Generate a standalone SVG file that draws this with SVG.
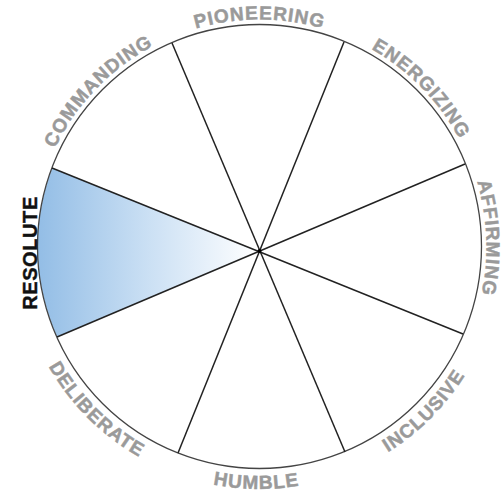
<svg xmlns="http://www.w3.org/2000/svg" xmlns:xlink="http://www.w3.org/1999/xlink" width="503" height="494" viewBox="0 0 503 494">
<style>
.lbl{font-family:"Liberation Sans",Arial,sans-serif;font-weight:bold;font-size:19px;fill:#9a9a9a;stroke:#9a9a9a;stroke-width:0.5px;letter-spacing:1px}
.sel{font-family:"Liberation Sans",Arial,sans-serif;font-weight:bold;font-size:20px;fill:#111;stroke:#111;stroke-width:0.4px;letter-spacing:0.6px}
.spoke{stroke:#222;stroke-width:1.5;fill:none}
</style>
<defs>
<linearGradient id="blue" gradientUnits="userSpaceOnUse" x1="40" y1="0" x2="258" y2="0">
<stop offset="0" stop-color="#94bee6"/>
<stop offset="0.5" stop-color="#cbe0f4"/>
<stop offset="1" stop-color="#ffffff"/>
</linearGradient>
<path id="top" d="M32.5,246.5 A227,227 0 1 1 486.5,246.5 A227,227 0 1 1 32.5,246.5"/>
<path id="bot" d="M17,246.5 A242.5,242.5 0 1 0 502,246.5 A242.5,242.5 0 1 0 17,246.5"/>
</defs>
<rect width="503" height="494" fill="#fff"/>
<g id="wheel">
<path id="resolute-sector" d="M259.5,251 L52,168 A222,222 0 0 0 57,337 Z" fill="url(#blue)"/>
<circle cx="259.5" cy="246.5" r="222" fill="none" stroke="#444" stroke-width="1.3"/>
</g>
<g id="connectors">
<line class="spoke" x1="52" y1="168" x2="463" y2="334"/>
<line class="spoke" x1="57" y1="337" x2="465" y2="164"/>
<line class="spoke" x1="172" y1="43" x2="345" y2="452"/>
<line class="spoke" x1="344" y1="42" x2="178" y2="453"/>
<circle cx="259.5" cy="251" r="2" fill="#000"/>
</g>
<g id="commanding"><text class="lbl" text-anchor="middle"><textPath xlink:href="#top" startOffset="12.2%">COMMANDING</textPath></text></g>
<g id="pioneering"><text class="lbl" text-anchor="middle"><textPath xlink:href="#top" startOffset="25%">PIONEERING</textPath></text></g>
<g id="energizing"><text class="lbl" text-anchor="middle"><textPath xlink:href="#top" startOffset="37.7%">ENERGIZING</textPath></text></g>
<g id="affirming"><text class="lbl" text-anchor="middle"><textPath xlink:href="#top" startOffset="49.4%">AFFIRMING</textPath></text></g>
<g id="inclusive"><text class="lbl" text-anchor="middle"><textPath xlink:href="#bot" startOffset="37.5%">INCLUSIVE</textPath></text></g>
<g id="humble"><text class="lbl" text-anchor="middle"><textPath xlink:href="#bot" startOffset="24.8%">HUMBLE</textPath></text></g>
<g id="deliberate"><text class="lbl" text-anchor="middle"><textPath xlink:href="#bot" startOffset="12.5%">DELIBERATE</textPath></text></g>
<g id="resolute"><text class="sel" text-anchor="middle" transform="translate(36.5,253) rotate(-90)">RESOLUTE</text></g>
</svg>
